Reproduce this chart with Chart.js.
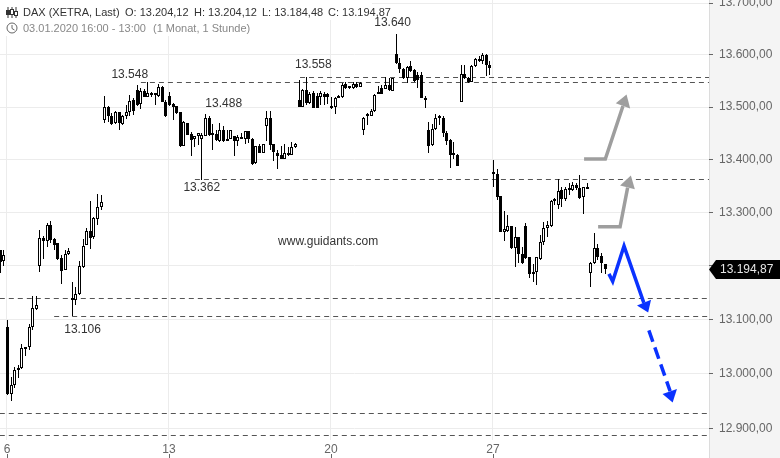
<!DOCTYPE html>
<html>
<head>
<meta charset="utf-8">
<title>DAX</title>
<script src="https://cdn.jsdelivr.net/npm/chart.js@4"></script>
<style>
    html, body { margin: 0; padding: 0; background: #fff; }
    #wrap { position: relative; width: 780px; height: 458px; overflow: hidden; font-family: "Liberation Sans", sans-serif; font-size: 11px; }
    canvas { position: absolute; left: 0; top: 0; }
    .head { position: absolute; left: 0; background: #fff; white-space: pre; line-height: 18px; }
    #line1 { top: 0; height: 20px; width: 372px; color: #333; }
    #line2 { top: 19px; height: 17px; width: 252px; color: #888; }
    .head span { position: absolute; }
    #line1 span { top: 3px; }
    #line2 span { top: 0; }
    .head svg { position: absolute; left: 6px; }
    #line1 svg { top: 7px; }
    #line2 svg { top: 3px; }
</style>
</head>
<body>
<div id="wrap">
    <canvas id="daxChart" width="780" height="458"></canvas>
    <div class="head" id="line1">
        <svg width="12" height="11" viewBox="0 0 12 11"><path d="M2 0V11M6 0V11M10 0V11" stroke="#333"/><rect x="0.5" y="3.5" width="3" height="4" fill="#333" stroke="#333"/><rect x="4.5" y="2.5" width="3" height="5" fill="#fff" stroke="#333"/><rect x="8.5" y="4.5" width="3" height="4" fill="#fff" stroke="#333"/></svg>
        <span style="left:23px">DAX (XETRA, Last)</span><span style="left:125px">O: 13.204,12</span><span style="left:194px">H: 13.204,12</span><span style="left:262px">L: 13.184,48</span><span style="left:328px">C: 13.194,87</span>
    </div>
    <div class="head" id="line2">
        <svg width="12" height="12" viewBox="0 0 12 12"><circle cx="6" cy="6" r="5" fill="none" stroke="#666"/><path d="M6 3V6.5L8.5 8" fill="none" stroke="#666"/></svg>
        <span style="left:23px">03.01.2020 16:00 - 13:00</span><span style="left:153px">(1 Monat, 1 Stunde)</span>
    </div>
</div>
<script>
// hourly candles, first one is index -2 (the last two of the 3rd of January)
const firstIndex = -2;
const opens = [
    13230, 13209, 13087, 12963, 12979, 13006, 13010, 13049, 13050, 13087, 13120,
    13199, 13252, 13247, 13277, 13251, 13242, 13215, 13193, 13222,
    13140, 13137, 13148, 13198, 13239, 13266, 13254, 13288, 13311,
    13475, 13500, 13483, 13470, 13491, 13468, 13482, 13491, 13513,
    13532, 13505, 13530, 13520, 13525, 13525, 13521, 13539, 13510,
    13521, 13506, 13502, 13491, 13426, 13470, 13449, 13439, 13444,
    13439, 13445, 13480, 13448, 13449, 13436, 13456, 13436, 13439,
    13444, 13436, 13440, 13439, 13454, 13439, 13393, 13426, 13413,
    13463, 13480, 13429, 13413, 13409, 13402, 13412, 13409, 13423,
    13513, 13501, 13532, 13507, 13526, 13521, 13520, 13525, 13524,
    13502, 13501, 13521, 13520, 13545, 13539, 13536, 13545, 13539,
    13456, 13485, 13483, 13493, 13526, 13536, 13534, 13543, 13531,
    13601, 13585, 13572, 13556, 13578, 13570, 13561, 13561, 13518,
    13456, 13427, 13458, 13480, 13479, 13450, 13437, 13412, 13408,
    13510, 13564, 13556, 13547, 13578, 13593, 13588, 13599, 13581,
    13374, 13373, 13331, 13264, 13266, 13275, 13233, 13254, 13222,
    13275, 13216, 13184, 13188, 13213, 13245, 13271, 13274, 13324,
    13315, 13343, 13325, 13344, 13343, 13352, 13347, 13329, 13348,
    13186, 13205, 13233, 13218, 13204.12
];
const closes = [
    13207, 13220, 12963, 12979, 13007, 13011, 13048, 13046, 13087, 13122, 13128,
    13252, 13247, 13277, 13249, 13239, 13213, 13191, 13223, 13228,
    13137, 13148, 13200, 13237, 13266, 13252, 13290, 13311, 13320,
    13500, 13482, 13468, 13491, 13470, 13482, 13491, 13512, 13493,
    13504, 13530, 13519, 13526, 13523, 13523, 13538, 13510, 13482,
    13504, 13501, 13489, 13425, 13472, 13447, 13437, 13445, 13450,
    13447, 13479, 13447, 13447, 13437, 13456, 13436, 13439, 13456,
    13436, 13442, 13441, 13454, 13439, 13392, 13426, 13413, 13430,
    13480, 13428, 13415, 13407, 13402, 13412, 13408, 13423, 13430,
    13501, 13532, 13507, 13525, 13499, 13499, 13526, 13520, 13520,
    13499, 13518, 13518, 13542, 13536, 13536, 13545, 13539, 13546,
    13480, 13482, 13493, 13523, 13524, 13525, 13543, 13532, 13555,
    13584, 13572, 13556, 13577, 13569, 13550, 13551, 13518, 13513,
    13426, 13458, 13479, 13479, 13451, 13436, 13409, 13408, 13387,
    13564, 13555, 13547, 13578, 13593, 13588, 13599, 13580, 13574,
    13373, 13330, 13264, 13269, 13274, 13233, 13254, 13222, 13205,
    13214, 13184, 13188, 13216, 13244, 13271, 13276, 13321, 13321,
    13341, 13325, 13344, 13343, 13351, 13346, 13327, 13348, 13344,
    13205, 13233, 13217, 13205, 13194.87
];
const highs = [
    13230, 13230, 13100, 12994, 13012, 13017, 13055, 13050, 13091, 13144, 13144,
    13267, 13256, 13281, 13284, 13252, 13243, 13220, 13230, 13234,
    13170, 13161, 13209, 13251, 13271, 13321, 13292, 13335, 13333,
    13521, 13502, 13489, 13492, 13491, 13485, 13504, 13523, 13517,
    13542, 13536, 13534, 13548, 13529, 13525, 13544, 13540, 13513,
    13529, 13508, 13502, 13491, 13474, 13470, 13453, 13445, 13451,
    13451, 13487, 13482, 13468, 13456, 13470, 13464, 13456, 13456,
    13445, 13447, 13450, 13455, 13454, 13441, 13426, 13430, 13430,
    13493, 13493, 13430, 13418, 13426, 13430, 13423, 13433, 13432,
    13551, 13534, 13558, 13529, 13531, 13527, 13531, 13529, 13526,
    13520, 13520, 13523, 13546, 13548, 13539, 13547, 13547, 13548,
    13481, 13488, 13496, 13525, 13540, 13542, 13557, 13555, 13555,
    13640, 13594, 13575, 13578, 13588, 13572, 13567, 13568, 13521,
    13472, 13468, 13486, 13485, 13482, 13455, 13439, 13434, 13411,
    13580, 13580, 13557, 13580, 13594, 13597, 13603, 13601, 13589,
    13399, 13382, 13331, 13303, 13296, 13275, 13273, 13254, 13235,
    13281, 13216, 13203, 13216, 13258, 13283, 13284, 13323, 13327,
    13363, 13349, 13348, 13355, 13357, 13355, 13371, 13348, 13355,
    13208, 13261, 13240, 13224, 13204.12
];
const lows = [
    13187, 13200, 12961, 12950, 12974, 12992, 13009, 13033, 13044, 13081, 13118,
    13189, 13213, 13235, 13243, 13230, 13211, 13167, 13192, 13220,
    13106, 13128, 13146, 13196, 13239, 13232, 13251, 13277, 13305,
    13470, 13472, 13466, 13468, 13456, 13466, 13477, 13483, 13485,
    13502, 13496, 13519, 13519, 13520, 13504, 13520, 13509, 13481,
    13502, 13475, 13487, 13424, 13426, 13447, 13406, 13423, 13428,
    13362, 13444, 13444, 13418, 13435, 13434, 13434, 13435, 13439,
    13406, 13425, 13439, 13430, 13432, 13389, 13392, 13412, 13412,
    13436, 13418, 13398, 13382, 13402, 13402, 13407, 13408, 13422,
    13501, 13500, 13504, 13506, 13498, 13498, 13504, 13504, 13506,
    13496, 13487, 13517, 13518, 13534, 13534, 13534, 13536, 13539,
    13447, 13466, 13482, 13491, 13524, 13524, 13534, 13531, 13531,
    13582, 13565, 13554, 13546, 13568, 13548, 13536, 13517, 13499,
    13413, 13426, 13456, 13466, 13442, 13428, 13384, 13402, 13387,
    13510, 13553, 13546, 13547, 13577, 13586, 13583, 13559, 13561,
    13348, 13323, 13264, 13247, 13264, 13232, 13197, 13206, 13203,
    13212, 13177, 13169, 13164, 13211, 13239, 13254, 13273, 13315,
    13306, 13310, 13321, 13333, 13341, 13343, 13326, 13297, 13344,
    13160, 13203, 13211, 13187, 13184.48
];

const yTickValues = [12900, 13000, 13100, 13200, 13300, 13400, 13500, 13600, 13700];
const yTickLabels = ['12.900,00', '13.000,00', '13.100,00', '', '13.300,00', '13.400,00', '13.500,00', '13.600,00', '13.700,00'];
const xTickValues = [0, 45, 90, 135];
const xTickLabels = ['6', '13', '20', '27'];
const lastPriceLabel = '13.194,87';

// dashed support / resistance levels, each runs from a start candle to the right edge
const levelPrices = [13556.5, 13547, 13362, 13140, 13106, 12927, 12887];
const levelStarts = [81.4, 37.2, 52.2, -2, 13.1, -2, -2];

const noteTexts = ['13.548', '13.488', '13.362', '13.558', '13.640', '13.106', 'www.guidants.com'];
const noteIndexes = [34.1, 60.2, 54.1, 85.1, 107.1, 21, 89.2];
const notePrices = [13561, 13506, 13347, 13582, 13663, 13082, 13245];

// drawn arrows, in candle index / price
const greyUpperX = [160.3, 166.2, 171.1];
const greyUpperY = [13401, 13401, 13502];
const greyUpperHeadX = [172.1, 169.1, 173.1, 172.1];
const greyUpperHeadY = [13524, 13507, 13497, 13524];
const greyLowerX = [164.2, 170.3, 172.4];
const greyLowerY = [13273, 13273, 13347];
const greyLowerHeadX = [173.3, 170.3, 174.4, 173.3];
const greyLowerHeadY = [13370, 13351, 13344, 13370];
const blueX = [167.2, 168.25, 171.4, 176.9];
const blueY = [13185, 13171, 13237, 13131];
const blueHeadX = [178.1, 175, 178.9, 178.1];
const blueHeadY = [13113, 13126, 13137, 13113];
const blueDashX = [178.3, 184.2];
const blueDashY = [13080, 12968];
const blueDashHeadX = [184.9, 182.1, 186.1, 184.9];
const blueDashHeadY = [12947, 12963, 12972, 12947];

const GRID = '#ececec';
const AXIS_TEXT = '#666';
const GREY_ARROW = '#9e9e9e';
const BLUE_ARROW = '#0a32ff';

Chart.defaults.font.family = '"Liberation Sans", sans-serif';
Chart.defaults.font.size = 12;

function toPoints(xs, ys) {
    return xs.map((x, i) => ({ x: x, y: ys[i] }));
}

function shaft(xs, ys, color, dash) {
    return {
        type: 'line', data: toPoints(xs, ys), order: 1,
        borderColor: color, borderWidth: 3.5, borderDash: dash || [],
        borderJoinStyle: 'miter', pointRadius: 0, fill: false, tension: 0
    };
}

function head(xs, ys, color) {
    return {
        type: 'line', data: toPoints(xs, ys), order: 1,
        borderColor: color, backgroundColor: color, borderWidth: 0,
        pointRadius: 0, fill: 'shape', tension: 0
    };
}

const levelDatasets = levelPrices.map((price, i) => ({
    type: 'line', crisp: true, order: 5,
    data: toPoints([levelStarts[i], 195], [price, price]),
    borderColor: '#555', borderWidth: 1, borderDash: [5, 4],
    pointRadius: 0, fill: false
}));

const wickDataset = {
    type: 'bar', crisp: true, order: 3, grouped: false,
    data: highs.map((h, i) => ({ x: firstIndex + i, y: [lows[i], h] })),
    backgroundColor: '#000', borderWidth: 0, inflateAmount: 0,
    barPercentage: 1, categoryPercentage: 1, maxBarThickness: 1
};

const bodyDataset = {
    type: 'bar', crisp: true, order: 2, grouped: false,
    data: opens.map((o, i) => ({ x: firstIndex + i, y: [o, closes[i]] })),
    backgroundColor: opens.map((o, i) => closes[i] >= o ? '#fff' : '#000'),
    borderColor: '#000', borderWidth: 1, borderSkipped: false, inflateAmount: 0,
    barPercentage: 1, categoryPercentage: 1, maxBarThickness: 3, minBarLength: 2
};

// right panel, price tag, small x ticks and the notes on the chart
const extras = {
    id: 'extras',
    beforeDraw(chart) {
        const ctx = chart.ctx, area = chart.chartArea;
        ctx.fillStyle = '#f4f4f4';
        ctx.fillRect(area.right, 0, chart.width - area.right, chart.height);
        ctx.fillStyle = '#dcdcdc';
        ctx.fillRect(area.right, 0, 1, chart.height);
    },
    afterDatasetsUpdate(chart) {
        // snap to whole pixels so the thin candles stay sharp
        chart.data.datasets.forEach((ds, i) => {
            if (!ds.crisp) return;
            chart.getDatasetMeta(i).data.forEach(el => {
                if (ds.type === 'bar') {
                    el.x = Math.round(el.x) + 0.5;
                    el.y = Math.round(el.y);
                    el.base = Math.round(el.base);
                    el.height = el.base - el.y;
                } else {
                    el.y = Math.floor(el.y) + 0.5;
                }
            });
        });
    },
    afterDatasetsDraw(chart) {
        const ctx = chart.ctx;
        ctx.save();
        ctx.fillStyle = '#333';
        ctx.font = '12px "Liberation Sans"';
        ctx.textAlign = 'center';
        ctx.textBaseline = 'middle';
        noteTexts.forEach((text, i) => {
            ctx.fillText(text, chart.scales.x.getPixelForValue(noteIndexes[i]), chart.scales.y.getPixelForValue(notePrices[i]));
        });
        ctx.restore();
    },
    afterDraw(chart) {
        const ctx = chart.ctx, area = chart.chartArea;
        ctx.save();
        ctx.strokeStyle = AXIS_TEXT;
        ctx.lineWidth = 1;
        xTickValues.forEach(v => {
            const px = Math.round(chart.scales.x.getPixelForValue(v)) + 0.5;
            ctx.beginPath();
            ctx.moveTo(px, chart.height - 4);
            ctx.lineTo(px, chart.height);
            ctx.stroke();
        });
        const tagY = Math.round(chart.scales.y.getPixelForValue(closes[closes.length - 1])) + 0.5;
        ctx.fillStyle = '#000';
        ctx.beginPath();
        ctx.moveTo(area.right, tagY);
        ctx.lineTo(area.right + 7, tagY - 9.5);
        ctx.lineTo(chart.width, tagY - 9.5);
        ctx.lineTo(chart.width, tagY + 9.5);
        ctx.lineTo(area.right + 7, tagY + 9.5);
        ctx.closePath();
        ctx.fill();
        ctx.fillStyle = '#e6e6e6';
        ctx.font = '12px "Liberation Sans"';
        ctx.textAlign = 'left';
        ctx.textBaseline = 'middle';
        ctx.fillText(lastPriceLabel, area.right + 11, tagY);
        ctx.restore();
    }
};

new Chart(document.getElementById('daxChart').getContext('2d'), {
    data: {
        datasets: [
            ...levelDatasets,
            wickDataset,
            bodyDataset,
            shaft(greyUpperX, greyUpperY, GREY_ARROW),
            head(greyUpperHeadX, greyUpperHeadY, GREY_ARROW),
            shaft(greyLowerX, greyLowerY, GREY_ARROW),
            head(greyLowerHeadX, greyLowerHeadY, GREY_ARROW),
            shaft(blueX, blueY, BLUE_ARROW),
            head(blueHeadX, blueHeadY, BLUE_ARROW),
            shaft(blueDashX, blueDashY, BLUE_ARROW, [12, 6]),
            head(blueDashHeadX, blueDashHeadY, BLUE_ARROW)
        ]
    },
    options: {
        responsive: false,
        animation: false,
        events: [],
        layout: { autoPadding: false, padding: 0 },
        plugins: { legend: { display: false }, tooltip: { enabled: false } },
        scales: {
            x: {
                type: 'linear', min: -1.944, max: 195, offset: false,
                grid: { offset: false, color: GRID, drawTicks: false },
                border: { display: false },
                ticks: { color: AXIS_TEXT, padding: 2, maxRotation: 0, autoSkip: false, callback: v => xTickLabels[xTickValues.indexOf(v)] },
                afterBuildTicks: scale => { scale.ticks = xTickValues.map(v => ({ value: v })); },
                afterFit: scale => { scale.height = 18; scale.paddingLeft = 0; scale.paddingRight = 0; scale.paddingTop = 0; scale.paddingBottom = 0; }
            },
            y: {
                type: 'logarithmic', position: 'right', min: 12878.7, max: 13706, beginAtZero: false,
                grid: { color: GRID, tickColor: AXIS_TEXT, tickLength: 4 },
                border: { display: false },
                ticks: { color: AXIS_TEXT, padding: 6, autoSkip: false, maxRotation: 0, callback: v => yTickLabels[yTickValues.indexOf(v)] },
                afterBuildTicks: scale => { scale.ticks = yTickValues.map(v => ({ value: v })); },
                afterFit: scale => { scale.width = 71; scale.paddingLeft = 0; scale.paddingRight = 0; scale.paddingTop = 0; scale.paddingBottom = 0; }
            }
        }
    },
    plugins: [extras]
});
</script>
</body>
</html>
